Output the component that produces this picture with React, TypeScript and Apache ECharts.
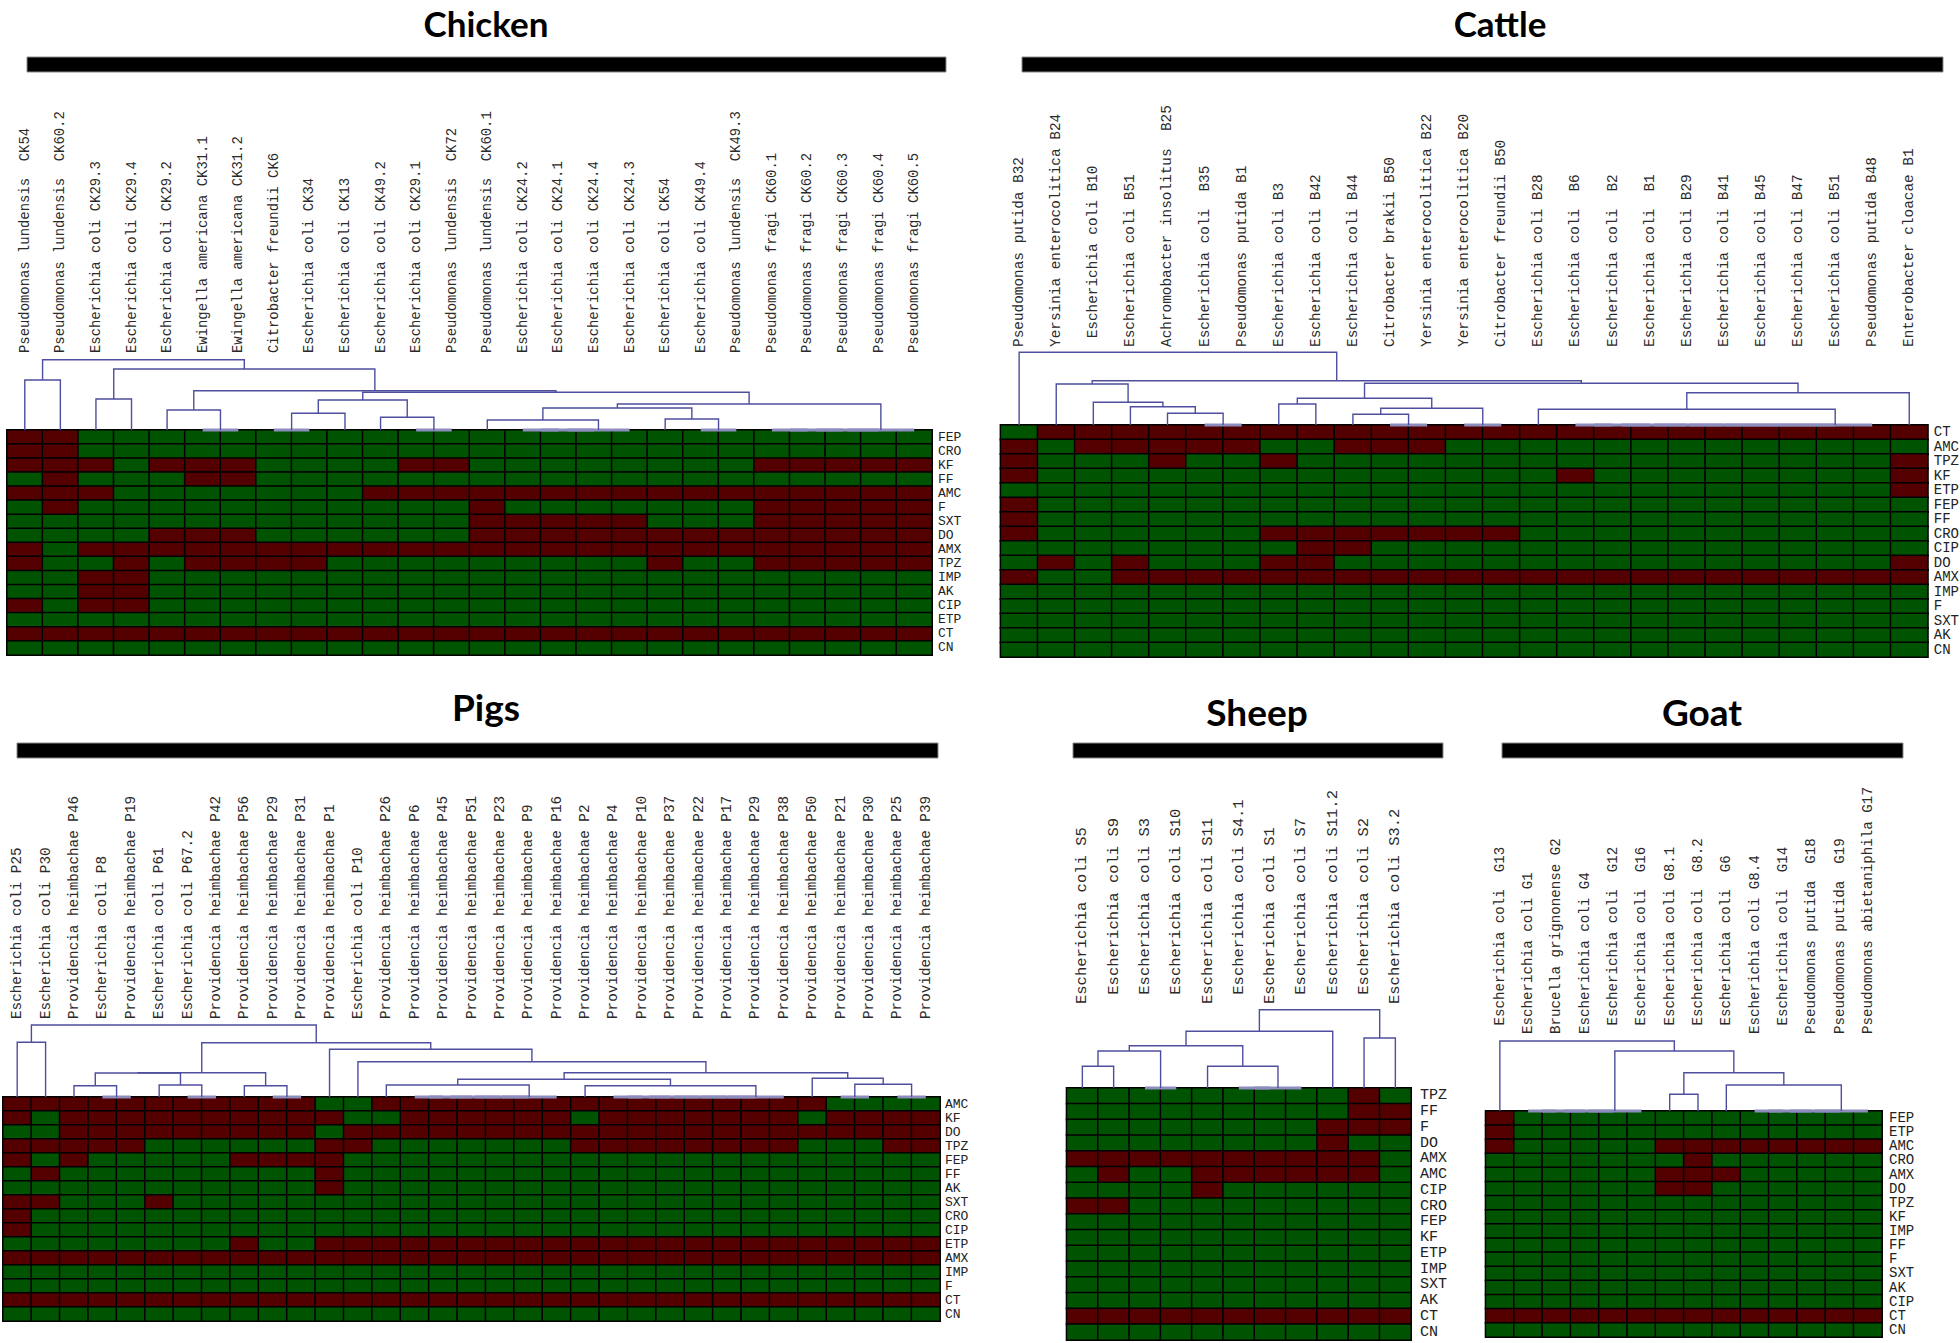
import React, { useEffect, useRef } from "react";
import * as echarts from "echarts";

// ---------- colours ----------
const RESISTANT = "#540000";
const SUSCEPTIBLE = "#005300";
const LINK = "#4e4e9e";
const LINK_ZERO = "#8d8dbd";

const panelTitles = ["Chicken", "Cattle", "Pigs", "Sheep", "Goat"];

// ---------- Chicken ----------
const chickenIsolates = [
  "Pseudomonas lundensis  CK54",
  "Pseudomonas lundensis  CK60.2",
  "Escherichia coli CK29.3",
  "Escherichia coli CK29.4",
  "Escherichia coli CK29.2",
  "Ewingella americana CK31.1",
  "Ewingella americana CK31.2",
  "Citrobacter freundii CK6",
  "Escherichia coli CK34",
  "Escherichia coli CK13",
  "Escherichia coli CK49.2",
  "Escherichia coli CK29.1",
  "Pseudomonas lundensis  CK72",
  "Pseudomonas lundensis  CK60.1",
  "Escherichia coli CK24.2",
  "Escherichia coli CK24.1",
  "Escherichia coli CK24.4",
  "Escherichia coli CK24.3",
  "Escherichia coli CK54",
  "Escherichia coli CK49.4",
  "Pseudomonas lundensis  CK49.3",
  "Pseudomonas fragi CK60.1",
  "Pseudomonas fragi CK60.2",
  "Pseudomonas fragi CK60.3",
  "Pseudomonas fragi CK60.4",
  "Pseudomonas fragi CK60.5",
];
const chickenDrugs = ["FEP", "CRO", "KF", "FF", "AMC", "F", "SXT", "DO", "AMX", "TPZ", "IMP", "AK", "CIP", "ETP", "CT", "CN"];
// 1 = resistant, 0 = susceptible (one string per antibiotic, one char per isolate)
const chickenMatrix = [
  "11000000000000000000000000",
  "11000000000000000000000000",
  "11101110000110000000011111",
  "01000110000000000000000000",
  "11100000001111111111111111",
  "01000000000001000000011111",
  "00000000000001111100011111",
  "00001110000001111111111111",
  "10111111111111111111111111",
  "10010111100000000010011111",
  "00110000000000000000000000",
  "00110000000000000000000000",
  "10110000000000000000000000",
  "00000000000000000000000000",
  "11111111111111111111111111",
  "00000000000000000000000000",
];
// dendrogram: [left, right, height]; numbers are isolate indices
const chickenTree: any = [[0, 1, 50], [[2, 3, 31], [[4, [5, 6, 0], 20], [[[[7, 8, 0], 9, 16.7], [10, [11, 12, 0], 12.7], 30], [[[13, [[[14, 15, 0], 16, 0], 17, 0], 10], [18, [19, 20, 0], 11], 22], [[[[21, 22, 0], 23, 0], 24, 0], 25, 0], 26], 37.7], 39.3], 61], 70.3];

// ---------- Cattle ----------
const cattleIsolates = [
  "Pseudomonas putida B32",
  "Yersinia enterocolitica B24",
  " Escherichia coli B10",
  "Escherichia coli B51",
  "Achromobacter insolitus  B25",
  "Escherichia coli  B35",
  "Pseudomonas putida B1",
  "Escherichia coli B3",
  "Escherichia coli B42",
  "Escherichia coli B44",
  "Citrobacter brakii B50",
  "Yersinia enterocolitica B22",
  "Yersinia enterocolitica B20",
  "Citrobacter freundii B50",
  "Escherichia coli B28",
  "Escherichia coli  B6",
  "Escherichia coli  B2",
  "Escherichia coli  B1",
  "Escherichia coli B29",
  "Escherichia coli B41",
  "Escherichia coli B45",
  "Escherichia coli B47",
  "Escherichia coli B51",
  "Pseudomonas putida B48",
  "Enterobacter cloacae B1",
];
const cattleDrugs = ["CT", "AMC", "TPZ", "KF", "ETP", "FEP", "FF", "CRO", "CIP", "DO", "AMX", "IMP", "F", "SXT", "AK", "CN"];
const cattleMatrix = [
  "0111111111111111111111111",
  "1011111001110000000000000",
  "1000100100000000000000001",
  "1000000000000001000000001",
  "0000000000000000000000001",
  "1000000000000000000000000",
  "1000000000000000000000000",
  "1000000111111100000000000",
  "0000000011000000000000000",
  "0101000110000000000000001",
  "1001111111111111111111111",
  "0000000000000000000000000",
  "0000000000000000000000000",
  "0000000000000000000000000",
  "0000000000000000000000000",
  "0000000000000000000000000",
];
const cattleTree: any = [0, [[1, [2, [3, [4, [5, 6, 0], 11.7], 18.3], 22.7], 41], [[[7, 8, 21], [[9, [10, 11, 0], 10.7], [12, 13, 0], 16.7], 26.7], [[14, [[[[[[[[15, 16, 0], 17, 0], 18, 0], 19, 0], 20, 0], 21, 0], 22, 0], 23, 0], 15.7], 24, 32.3], 41.7], 44.3], 72.7];

// ---------- Pigs ----------
const pigsIsolates = [
  "Escherichia coli P25",
  "Escherichia coli P30",
  "Providencia heimbachae P46",
  "Escherichia coli P8",
  "Providencia heimbachae P19",
  "Escherichia coli P61",
  "Escherichia coli P67.2",
  "Providencia heimbachae P42",
  "Providencia heimbachae P56",
  "Providencia heimbachae P29",
  "Providencia heimbachae P31",
  "Providencia heimbachae P1",
  "Escherichia coli P10",
  "Providencia heimbachae P26",
  "Providencia heimbachae P6",
  "Providencia heimbachae P45",
  "Providencia heimbachae P51",
  "Providencia heimbachae P23",
  "Providencia heimbachae P9",
  "Providencia heimbachae P16",
  "Providencia heimbachae P2",
  "Providencia heimbachae P4",
  "Providencia heimbachae P10",
  "Providencia heimbachae P37",
  "Providencia heimbachae P22",
  "Providencia heimbachae P17",
  "Providencia heimbachae P29",
  "Providencia heimbachae P38",
  "Providencia heimbachae P50",
  "Providencia heimbachae P21",
  "Providencia heimbachae P30",
  "Providencia heimbachae P25",
  "Providencia heimbachae P39",
];
const pigsDrugs = ["AMC", "KF", "DO", "TPZ", "FEP", "FF", "AK", "SXT", "CRO", "CIP", "ETP", "AMX", "IMP", "F", "CT", "CN"];
const pigsMatrix = [
  "111111111110011111111111111110000",
  "101111111111001111110111111101111",
  "001111111110111111111111111111111",
  "111110000001100000001111111100011",
  "101000001111000000000000000000000",
  "010000000001000000000000000000000",
  "000000000001000000000000000000000",
  "110001000000000000000000000000000",
  "100000000000000000000000000000000",
  "100000000000000000000000000000000",
  "000000001001111111111111111111111",
  "111111111111111111111111111111111",
  "000000000000000000000000000000000",
  "000000000000000000000000000000000",
  "111111111111111111111111111111111",
  "000000000000000000000000000000000",
];
const pigsTree: any = [[0, 1, 54.7], [[[[2, [3, 4, 0], 11.3], [5, [6, 7, 0], 12], 24], [8, [9, 10, 0], 11.3], 24.3], [11, [12, [[[13, [[[[[14, 15, 0], 16, 0], 17, 0], 18, 0], 19, 0], 12], [20, [[[[[[21, 22, 0], 23, 0], 24, 0], 25, 0], 26, 0], 27, 0], 11.3], 17.7], [28, [[29, 30, 0], [31, 32, 0], 12.7], 18.7], 24.3], 35.3], 47.7], 54.3], 72];

// ---------- Sheep ----------
const sheepIsolates = [
  "Escherichia coli S5",
  " Escherichia coli S9",
  " Escherichia coli S3",
  " Escherichia coli S10",
  "Escherichia coli S11",
  " Escherichia coli S4.1",
  "Escherichia coli S1",
  " Escherichia coli S7",
  " Escherichia coli S11.2",
  " Escherichia coli S2",
  "Escherichia coli S3.2",
];
const sheepDrugs = ["TPZ", "FF", "F", "DO", "AMX", "AMC", "CIP", "CRO", "FEP", "KF", "ETP", "IMP", "SXT", "AK", "CT", "CN"];
const sheepMatrix = [
  "00000000010",
  "00000000011",
  "00000000111",
  "00000000100",
  "11111111110",
  "01001111110",
  "00001000000",
  "11000000000",
  "00000000000",
  "00000000000",
  "00000000000",
  "00000000000",
  "00000000000",
  "00000000000",
  "11111111111",
  "00000000000",
];
const sheepTree: any = [[[[[0, 1, 21.7], [2, 3, 0], 37], [4, [[5, 6, 0], 7, 0], 21.7], 42.3], 8, 56.7], [9, 10, 50], 78.3];

// ---------- Goat ----------
const goatIsolates = [
  " Escherichia coli  G13",
  "Escherichia coli G1",
  "Brucella grignonense G2",
  "Escherichia coli G4",
  " Escherichia coli  G12",
  " Escherichia coli  G16",
  " Escherichia coli G8.1",
  " Escherichia coli  G8.2",
  " Escherichia coli  G6",
  "Escherichia coli G8.4",
  " Escherichia coli  G14",
  "Pseudomonas putida  G18",
  "Pseudomonas putida  G19",
  "Pseudomonas abietaniphila G17",
];
const goatDrugs = ["FEP", "ETP", "AMC", "CRO", "AMX", "DO", "TPZ", "KF", "IMP", "FF", "F", "SXT", "AK", "CIP", "CT", "CN"];
const goatMatrix = [
  "10000000000000",
  "10000000000000",
  "10000011111111",
  "00000001000000",
  "00000011100000",
  "00000011000000",
  "00000000000000",
  "00000000000000",
  "00000000000000",
  "00000000000000",
  "00000000000000",
  "00000000000000",
  "00000000000000",
  "00000000000000",
  "11111111111111",
  "00000000000000",
];
const goatTree: any = [0, [[[[[1, 2, 0], 3, 0], 4, 0], 5, 0], [[6, 7, 16.7], [8, [[[[9, 10, 0], 11, 0], 12, 0], 13, 0], 26], 38.3], 60], 70];

// ---------- layout (pixels) ----------
const layouts = [
  { left: 7, right: 932, heatTop: 430, heatBottom: 655, labelTop: 354, colFont: 13.9, rowFont: 13, rowMargin: 6, titleX: 486, titleY: 23, titleSize: 35, bar: [27, 57, 919, 15] },
  { left: 1000.6, right: 1927.8, heatTop: 425, heatBottom: 657, labelTop: 348, colFont: 14.4, rowFont: 14, rowMargin: 6, titleX: 1500, titleY: 23, titleSize: 35, bar: [1022, 57, 921, 15] },
  { left: 3, right: 940, heatTop: 1097, heatBottom: 1321, labelTop: 1020, colFont: 14.3, rowFont: 13, rowMargin: 5, titleX: 486, titleY: 706, titleSize: 37, bar: [17, 743, 921, 15] },
  { left: 1066.7, right: 1411, heatTop: 1088, heatBottom: 1340, labelTop: 1005, colFont: 15.5, rowFont: 15, rowMargin: 9, titleX: 1257, titleY: 711, titleSize: 37, bar: [1073, 743, 370, 15] },
  { left: 1485.7, right: 1882, heatTop: 1111, heatBottom: 1337, labelTop: 1035, colFont: 14.2, rowFont: 14, rowMargin: 7, titleX: 1702, titleY: 711, titleSize: 37, bar: [1502, 743, 401, 15] },
];

const MONO = '"Liberation Mono", "Courier New", monospace';

function layoutTree(t: any, links: any[]): { x: number; y: number } {
  if (typeof t === "number") return { x: t, y: 0 };
  const a = layoutTree(t[0], links);
  const b = layoutTree(t[1], links);
  const h = t[2];
  links.push({ coords: [[a.x, a.y], [a.x, h], [b.x, h], [b.x, b.y]], zero: h === 0 });
  return { x: (a.x + b.x) / 2, y: h };
}

const fmtLabel = (v: string) => v.replace(/^ /, "\u00a0").replace(/  /g, " \u00a0");

function buildOption() {
  const panels = [
    { isolates: chickenIsolates, drugs: chickenDrugs, matrix: chickenMatrix, tree: chickenTree },
    { isolates: cattleIsolates, drugs: cattleDrugs, matrix: cattleMatrix, tree: cattleTree },
    { isolates: pigsIsolates, drugs: pigsDrugs, matrix: pigsMatrix, tree: pigsTree },
    { isolates: sheepIsolates, drugs: sheepDrugs, matrix: sheepMatrix, tree: sheepTree },
    { isolates: goatIsolates, drugs: goatDrugs, matrix: goatMatrix, tree: goatTree },
  ];
  const grid: any[] = [];
  const xAxis: any[] = [];
  const yAxis: any[] = [];
  const series: any[] = [];
  const graphic: any[] = [];
  const heatIdx: number[] = [];

  panels.forEach((p, i) => {
    const L = layouts[i];
    const n = p.isolates.length;
    const width = L.right - L.left;
    grid.push({ left: L.left, top: L.heatTop, width, height: L.heatBottom - L.heatTop, outerBoundsMode: "none", containLabel: false });
    grid.push({ left: L.left, top: L.labelTop, width, height: L.heatTop - L.labelTop, outerBoundsMode: "none", containLabel: false });
    const gH = 2 * i;
    const gD = 2 * i + 1;

    xAxis.push({ type: "category", gridIndex: gH, data: p.isolates.map((_, k) => String(k)), show: false });
    xAxis.push({ type: "value", gridIndex: gD, min: -0.5, max: n - 0.5, show: false });
    xAxis.push({
      type: "category",
      gridIndex: gD,
      position: "top",
      data: p.isolates,
      axisLine: { show: false },
      axisTick: { show: false },
      splitLine: { show: false },
      axisLabel: {
        interval: 0,
        rotate: -90,
        margin: 1,
        fontFamily: MONO,
        fontSize: L.colFont,
        color: "#2a2a2a",
        formatter: fmtLabel,
      },
    });

    yAxis.push({
      type: "category",
      gridIndex: gH,
      data: p.drugs,
      inverse: true,
      position: "right",
      axisLine: { show: false },
      axisTick: { show: false },
      splitLine: { show: false },
      axisLabel: { interval: 0, margin: L.rowMargin, fontFamily: MONO, fontSize: L.rowFont, color: "#222" },
    });
    yAxis.push({ type: "value", gridIndex: gD, min: 0, max: L.heatTop - L.labelTop, show: false });

    const data: number[][] = [];
    p.matrix.forEach((row, r) => {
      row.split("").forEach((c, k) => data.push([k, r, Number(c)]));
    });
    heatIdx.push(series.length);
    series.push({
      type: "heatmap",
      xAxisIndex: 3 * i,
      yAxisIndex: 2 * i,
      data,
      silent: true,
      itemStyle: { borderColor: "#000", borderWidth: 1.5 },
      emphasis: { disabled: true },
    });

    const links: any[] = [];
    layoutTree(p.tree, links);
    series.push({
      type: "lines",
      coordinateSystem: "cartesian2d",
      xAxisIndex: 3 * i + 1,
      yAxisIndex: 2 * i + 1,
      polyline: true,
      clip: false,
      silent: true,
      lineStyle: { color: LINK_ZERO, width: 3, opacity: 1 },
      data: links.filter((l) => l.zero).map((l) => ({ coords: l.coords })),
    });
    series.push({
      type: "lines",
      coordinateSystem: "cartesian2d",
      xAxisIndex: 3 * i + 1,
      yAxisIndex: 2 * i + 1,
      polyline: true,
      clip: false,
      silent: true,
      lineStyle: { color: LINK, width: 1.4, opacity: 1 },
      data: links.filter((l) => !l.zero).map((l) => ({ coords: l.coords })),
    });

    graphic.push({
      type: "text",
      x: L.titleX,
      y: L.titleY,
      silent: true,
      style: {
        text: panelTitles[i],
        fontFamily: "Lato",
        fontWeight: "bold",
        fontSize: L.titleSize,
        fill: "#000",
        textAlign: "center",
        textVerticalAlign: "middle",
        align: "center",
        verticalAlign: "middle",
      },
    });
    graphic.push({
      type: "rect",
      silent: true,
      shape: { x: L.bar[0], y: L.bar[1], width: L.bar[2], height: L.bar[3] },
      style: { fill: "#000", stroke: "#8a8a8a", lineWidth: 1 },
    });
  });

  return {
    animation: false,
    backgroundColor: "#ffffff",
    grid,
    xAxis,
    yAxis,
    visualMap: {
      type: "piecewise",
      show: false,
      seriesIndex: heatIdx,
      dimension: 2,
      pieces: [
        { value: 0, color: SUSCEPTIBLE },
        { value: 1, color: RESISTANT },
      ],
    },
    series,
    graphic,
  };
}

export default function App() {
  const ref = useRef<HTMLDivElement>(null);
  useEffect(() => {
    const chart = echarts.init(ref.current as HTMLDivElement, undefined, { renderer: "svg" });
    chart.setOption(buildOption() as any);
    return () => chart.dispose();
  }, []);
  return (
    <div
      ref={ref}
      style={{ position: "absolute", left: 0, top: 0, width: 1960, height: 1343, background: "#fff" }}
    />
  );
}
